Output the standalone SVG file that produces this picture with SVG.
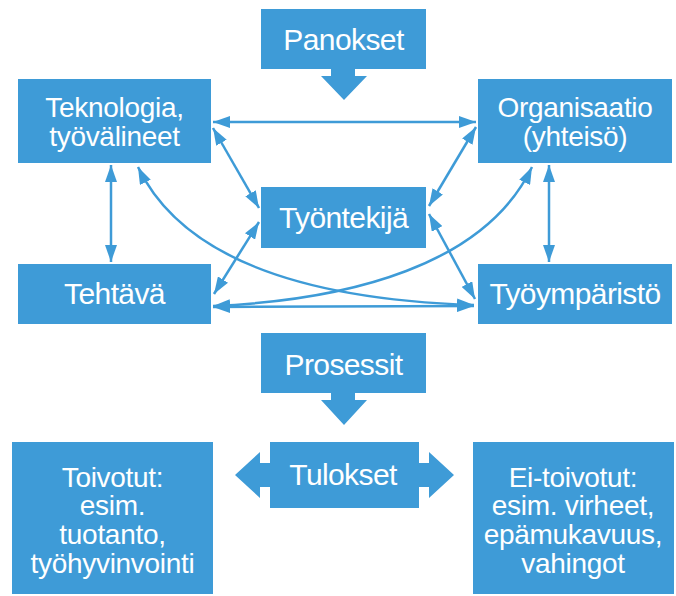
<svg xmlns="http://www.w3.org/2000/svg" width="676" height="596" viewBox="0 0 676 596">
<defs>
<style>
.box{fill:#3e9bd7}
.t{fill:#fff;font-family:"Liberation Sans",Arial,sans-serif;font-size:30px;text-anchor:middle;letter-spacing:-0.6px}
.m{font-size:28px;letter-spacing:-0.3px}
.c{fill:none;stroke:#3e9bd7;stroke-width:2.5}
</style>
<marker id="ah" viewBox="0 0 17 12" refX="17" refY="6" markerWidth="17" markerHeight="12" markerUnits="userSpaceOnUse" orient="auto-start-reverse">
<path d="M0,0 L17,6 L0,12 Z" fill="#3e9bd7"/>
</marker>
</defs>
<rect width="676" height="596" fill="#fff"/>
<g id="connectors">
<line class="c" x1="213" y1="122" x2="476" y2="122" marker-start="url(#ah)" marker-end="url(#ah)"/>
<line class="c" x1="111" y1="165" x2="111" y2="262" marker-start="url(#ah)" marker-end="url(#ah)"/>
<line class="c" x1="549" y1="165" x2="549" y2="262" marker-start="url(#ah)" marker-end="url(#ah)"/>
<line class="c" x1="213" y1="128" x2="259" y2="208" marker-start="url(#ah)" marker-end="url(#ah)"/>
<line class="c" x1="476" y1="127" x2="429" y2="206" marker-start="url(#ah)" marker-end="url(#ah)"/>
<line class="c" x1="259" y1="222" x2="214" y2="294" marker-start="url(#ah)" marker-end="url(#ah)"/>
<line class="c" x1="429" y1="214" x2="475" y2="299" marker-start="url(#ah)" marker-end="url(#ah)"/>
<line class="c" x1="213" y1="307" x2="474" y2="306" marker-start="url(#ah)" marker-end="url(#ah)"/>
<path class="c" d="M138,167 C185,265 320,300 474,305" marker-start="url(#ah)" marker-end="url(#ah)"/>
<path class="c" d="M532,167 C485,265 350,300 213,306" marker-start="url(#ah)" marker-end="url(#ah)"/>
<path class="box" d="M331,69 H355 V76 H367 L344,100 L321,76 H331 Z"/>
<path class="box" d="M331,393 H355 V400 H367 L344,425 L321,400 H331 Z"/>
<path class="box" d="M270,463 H260 V452 L235,475 L260,498 V487 H270 Z"/>
<path class="box" d="M419,463 H429 V452 L454,475 L429,498 V487 H419 Z"/>
</g>
<g id="panokset"><rect class="box" x="261" y="9" width="165" height="60"/><text class="t" x="343.5" y="50">Panokset</text></g>
<g id="teknologia"><rect class="box" x="18" y="79" width="193" height="84"/><text class="t m" x="114.5" y="117">Teknologia,</text><text class="t m" x="114.5" y="146">työvälineet</text></g>
<g id="organisaatio"><rect class="box" x="478" y="79" width="194" height="84"/><text class="t m" x="575" y="117">Organisaatio</text><text class="t m" x="575" y="146">(yhteisö)</text></g>
<g id="tyontekija"><rect class="box" x="261" y="187" width="165" height="61"/><text class="t" x="343.5" y="228">Työntekijä</text></g>
<g id="tehtava"><rect class="box" x="18" y="264" width="193" height="60"/><text class="t" x="114.5" y="304">Tehtävä</text></g>
<g id="tyoymparisto"><rect class="box" x="478" y="264" width="194" height="60"/><text class="t" x="575" y="304">Työympäristö</text></g>
<g id="prosessit"><rect class="box" x="261" y="333" width="165" height="60"/><text class="t" x="343.5" y="375">Prosessit</text></g>
<g id="tulokset"><rect class="box" x="270" y="442" width="149" height="66"/><text class="t" x="343" y="485">Tulokset</text></g>
<g id="toivotut"><rect class="box" x="12" y="442" width="201" height="152"/><text class="t m" x="112.5" y="487">Toivotut:</text><text class="t m" x="112.5" y="515">esim.</text><text class="t m" x="112.5" y="544">tuotanto,</text><text class="t m" x="112.5" y="573">työhyvinvointi</text></g>
<g id="ei-toivotut"><rect class="box" x="473" y="442" width="201" height="152"/><text class="t m" x="573" y="487">Ei-toivotut:</text><text class="t m" x="573" y="515">esim. virheet,</text><text class="t m" x="573" y="544">epämukavuus,</text><text class="t m" x="573" y="573">vahingot</text></g>
</svg>
